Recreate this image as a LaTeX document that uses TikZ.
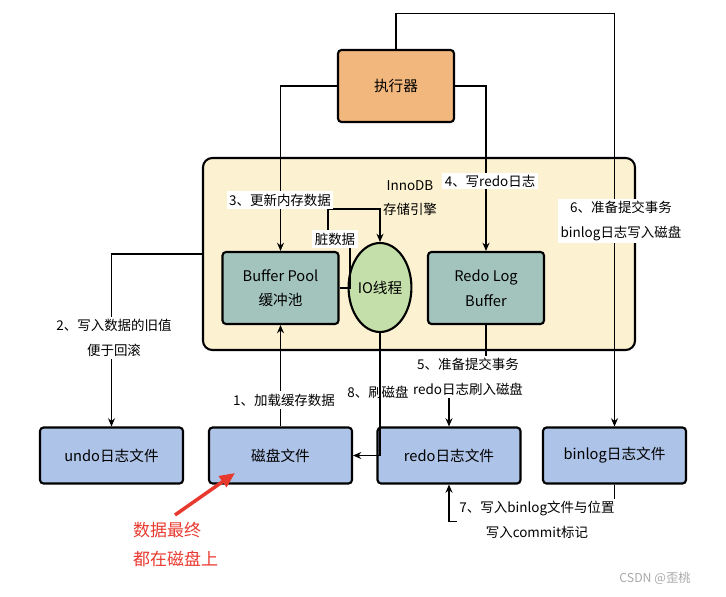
\documentclass[tikz,border=0pt]{standalone}
\usepackage{fontspec}
\setmainfont{Noto Sans CJK SC}
\usetikzlibrary{arrows.meta,shapes.geometric}

\definecolor{execorange}{HTML}{F2B77C}
\definecolor{innoyellow}{HTML}{FCF1D0}
\definecolor{bufteal}{HTML}{A3C4BC}
\definecolor{iogreen}{HTML}{C4DFA9}
\definecolor{fileblue}{HTML}{AEC3E8}
\definecolor{notered}{HTML}{E8392F}
\definecolor{markgray}{HTML}{A8A8A8}

\begin{document}
\begin{tikzpicture}[x=0.03cm,y=-0.03cm,
    thickbox/.style={draw,line width=1.8pt,rounded corners=3pt,inner sep=0pt,align=center,font=\fontsize{12.5}{21}\selectfont},
    execbox/.style={thickbox,fill=execorange,minimum width=3.48cm,minimum height=2.16cm},
    bufbox/.style={thickbox,fill=bufteal,minimum width=3.48cm,minimum height=2.16cm},
    filebox/.style={thickbox,fill=fileblue,minimum width=4.29cm,minimum height=1.68cm},
    lbl/.style={fill=white,inner sep=2pt,align=center,font=\fontsize{11.5}{21}\selectfont},
    arr/.style={line width=0.9pt,-{Stealth[length=7pt,width=6pt]}}]

    % Fix the page to the size of the reference
    \useasboundingbox (0,0) rectangle (726,597);

    % The storage engine frame
    \node[draw,line width=1.8pt,rounded corners=8pt,fill=innoyellow,
          minimum width=12.96cm,minimum height=5.76cm] (innodb) at (419,254) {};
    \node[align=center,inner sep=0pt,font=\fontsize{11.5}{21}\selectfont] (engine) at (410,198) {InnoDB\\存储引擎};

    % Executor on top
    \node[execbox] (exec) at (396,86) {执行器};

    % Buffers inside the engine
    \node[bufbox] (bp) at (280.5,288) {Buffer Pool\\缓冲池};
    \node[bufbox] (rlb) at (486,288) {Redo Log\\Buffer};
    \node[ellipse,draw,line width=1.8pt,fill=iogreen,inner sep=0pt,
          minimum width=1.68cm,minimum height=2.67cm,
          font=\fontsize{12.5}{21}\selectfont] (io) at (380,287.5) {IO线程};

    % Files on disk
    \node[filebox] (undo) at (111.5,455.5) {undo日志文件};
    \node[filebox] (disk) at (280.5,455.5) {磁盘文件};
    \node[filebox] (redo) at (449,455.5) {redo日志文件};
    \node[filebox] (binlog) at (614.5,455.5) {binlog日志文件};

    % Connectors
    \draw[arr] (disk.north) -- (bp.south);
    \draw[arr] (innodb.west) -| (undo.north);
    \draw[arr] (exec.west) -| (bp.north);
    \draw[arr] (exec.east) -| (rlb.north);
    \draw[arr] (bp.east) -| (350,239) -| (328,209) -| (io.north);
    \draw[arr] (rlb.south) -- ++(0,58) -| (redo.north);
    \draw[arr] (exec.north) -- ++(0,-35) -| (binlog.north);
    \draw[arr] (binlog.south) -- ++(0,37) -| (redo.south);
    \draw[arr] (io.south) |- (disk.east);

    % Step labels
    \node[lbl] (step1) at (284,400) {1、加载缓存数据};
    \node[lbl] (step2) at (114,338) {2、写入数据的旧值\\便于回滚};
    \node[lbl] (step3) at (280,200) {3、更新内存数据};
    \node[lbl] (dirty) at (335,239) {脏数据};
    \node[lbl] (step4) at (490,181) {4、写redo日志};
    \node[lbl] (step5) at (468,377) {5、准备提交事务\\redo日志刷入磁盘};
    \node[lbl] (step6) at (621,221) {6、准备提交事务\\binlog日志写入磁盘};
    \node[lbl] (step7) at (537,520) {7、写入binlog文件与位置\\写入commit标记};
    \node[lbl,fill=none] (step8) at (378,392) {8、刷磁盘};

    % Red remark
    \coordinate (tail) at (175,515);
    \coordinate (tip) at (235,473);
    \draw[line width=3pt,notered,-{Triangle[length=13pt,width=11pt]}] (tail) -- (tip);
    \node[anchor=north west,text=notered,align=left,inner sep=0pt,
          font=\fontsize{14.5}{25}\selectfont] (note) at (133,522) {数据最终\\都在磁盘上};

    % Watermark
    \node[text=markgray,font=\fontsize{10.5}{12}\selectfont] (mark) at (655,578) {CSDN @歪桃};

\end{tikzpicture}
\end{document}
